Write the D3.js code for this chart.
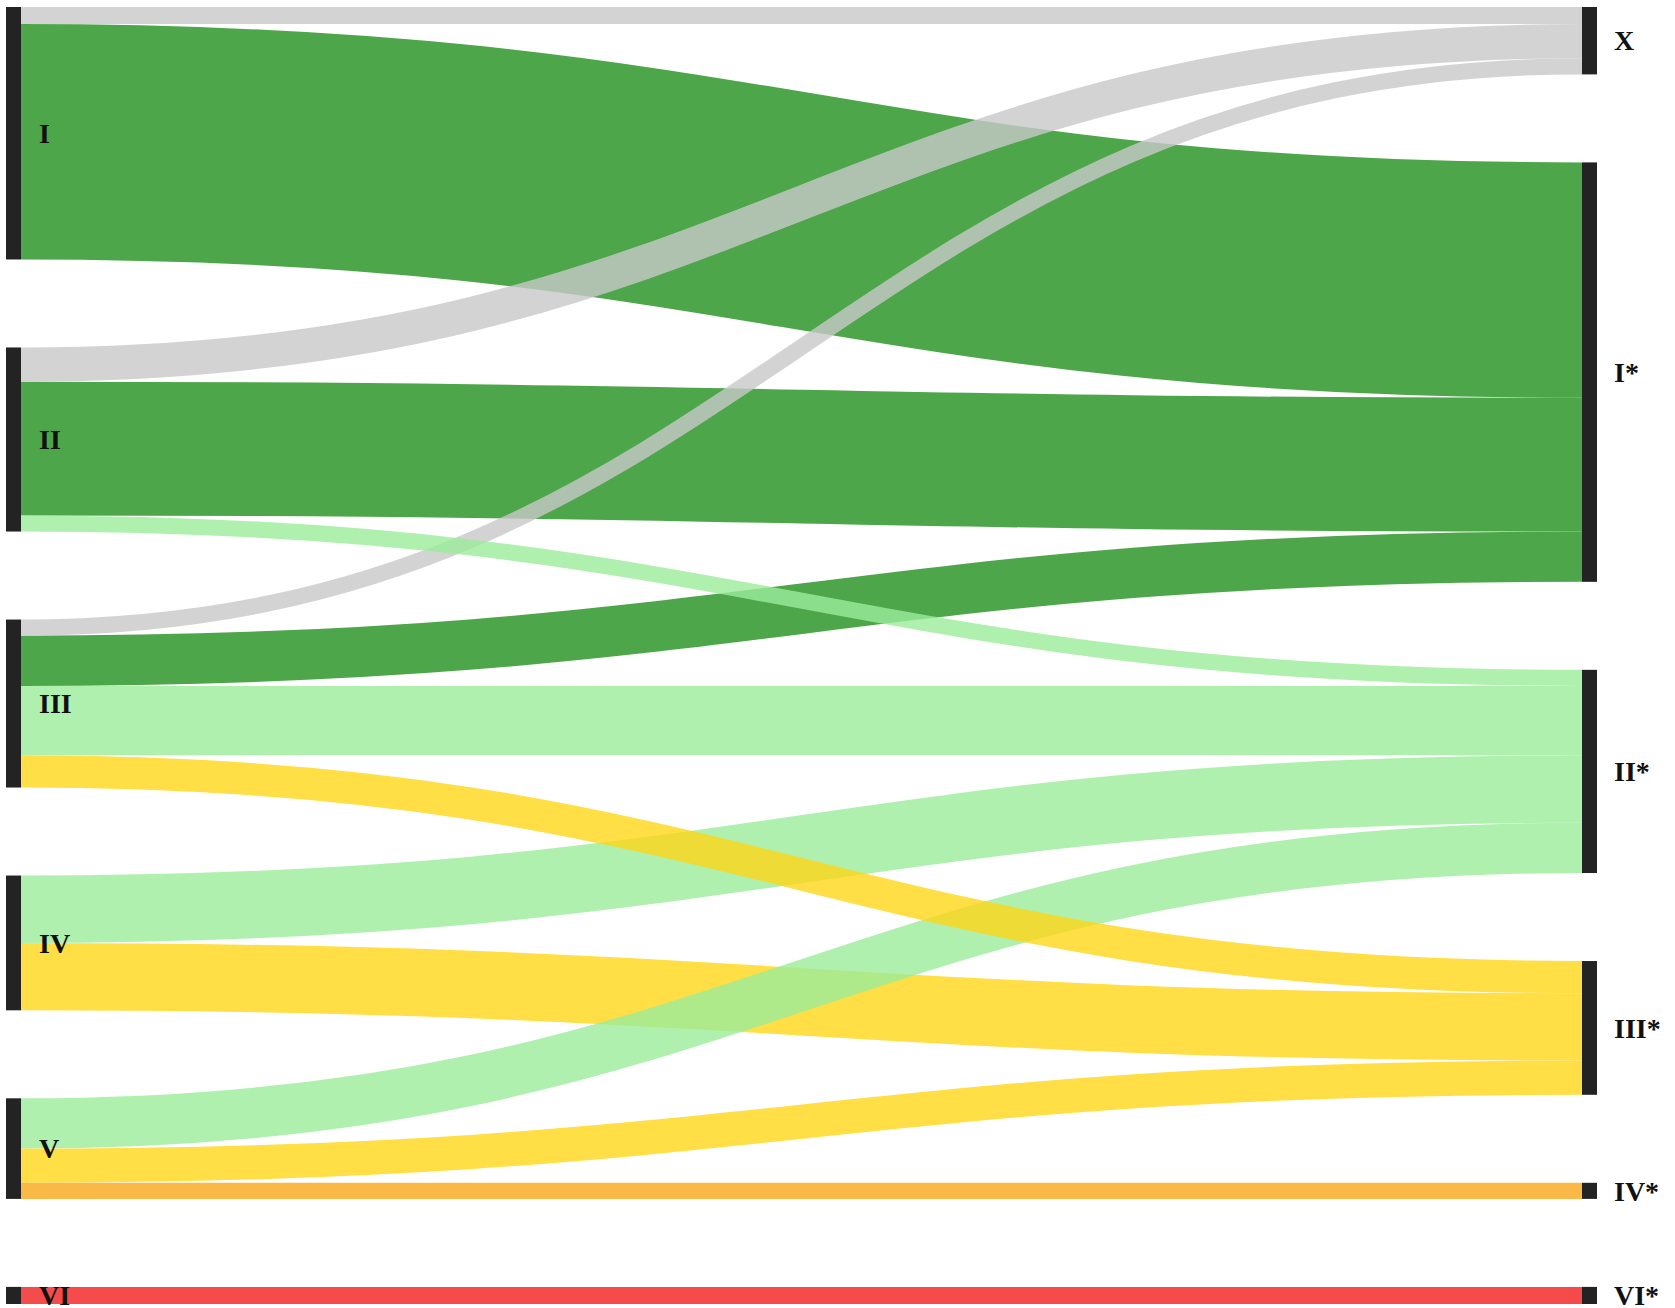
<!DOCTYPE html>
<html>
<head>
<meta charset="utf-8">
<script src="https://cdn.jsdelivr.net/npm/d3@7"></script>
<style>
  body { margin: 0; background: #ffffff; }
  text { font-family: "Liberation Serif", "DejaVu Serif", serif; font-weight: bold; font-size: 28px; fill: #111; }
</style>
</head>
<body>
<svg id="chart" width="1675" height="1308"></svg>
<script>
// ---- data ----
const sourceNodes = ["I", "II", "III", "IV", "V", "VI"];
const targetNodes = ["X", "I*", "II*", "III*", "IV*", "VI*"];

// links listed in drawing order (later ones on top)
const linkSources = ["I", "II", "III", "I", "II", "III", "II", "III", "IV", "IV", "V", "III", "V", "V", "VI"];
const linkTargets = ["I*", "I*", "I*", "X", "X", "X", "II*", "II*", "III*", "II*", "II*", "III*", "III*", "IV*", "VI*"];
const linkValues  = [234, 133, 50, 17, 34, 16, 16, 69, 67, 67, 50, 32, 34, 16, 17];

// ---- styles ----
const targetColors = ["#c8c8c8", "#22901d", "#9bec9b", "#ffd618", "#f9a818", "#f31e1e"];
const color = d3.scaleOrdinal(targetNodes, targetColors);

const W = 1675, H = 1308;
const nodeWidth = 15;
const padding = 88;
const extentTop = 7, extentBottom = 1304;
const curvature = 0.47;

// ---- layout ----
const nodes = [
  ...sourceNodes.map((n, i) => ({ name: n, col: 0, idx: i, out: [], inc: [] })),
  ...targetNodes.map((n, i) => ({ name: n, col: 1, idx: i, out: [], inc: [] }))
];
const byName = new Map(nodes.map(n => [n.col + ":" + n.name, n]));
const links = linkValues.map((v, i) => {
  const s = byName.get("0:" + linkSources[i]);
  const t = byName.get("1:" + linkTargets[i]);
  const l = { source: s, target: t, value: v, order: i };
  s.out.push(l); t.inc.push(l);
  return l;
});
nodes.forEach(n => {
  n.value = Math.max(d3.sum(n.out, l => l.value), d3.sum(n.inc, l => l.value));
});

const columns = [nodes.filter(n => n.col === 0), nodes.filter(n => n.col === 1)];
const ky = d3.min(columns, c => (extentBottom - extentTop - (c.length - 1) * padding) / d3.sum(c, n => n.value));
const h = d3.scaleLinear().domain([0, 1]).range([0, ky]);
const x = d3.scaleLinear().domain([0, 1]).range([6, 1582]);

columns.forEach(col => {
  const totalH = d3.sum(col, n => h(n.value));
  const pad = (extentBottom - extentTop - totalH) / (col.length - 1);
  let y = extentTop;
  col.forEach(n => {
    n.x0 = x(n.col);
    n.x1 = n.x0 + nodeWidth;
    n.y0 = y;
    n.y1 = y + h(n.value);
    y = n.y1 + pad;
  });
});

nodes.forEach(n => {
  let y = n.y0;
  n.out.slice().sort((a, b) => a.target.y0 - b.target.y0).forEach(l => {
    l.width = h(l.value);
    l.y0 = y + l.width / 2;
    y += l.width;
  });
  y = n.y0;
  n.inc.slice().sort((a, b) => a.source.y0 - b.source.y0).forEach(l => {
    l.y1 = y + h(l.value) / 2;
    y += h(l.value);
  });
});

// ---- draw ----
const svg = d3.select("#chart");

function linkPath(l) {
  const x0 = l.source.x1, x1 = l.target.x0;
  const dx = (x1 - x0) * curvature;
  const p = d3.path();
  p.moveTo(x0, l.y0);
  p.bezierCurveTo(x0 + dx, l.y0, x1 - dx, l.y1, x1, l.y1);
  return p.toString();
}

svg.append("g")
  .attr("fill", "none")
  .selectAll("path")
  .data(links)
  .join("path")
  .attr("d", linkPath)
  .attr("stroke", l => color(l.target.name))
  .attr("stroke-opacity", 0.8)
  .attr("stroke-width", l => l.width);

svg.append("g")
  .selectAll("rect")
  .data(nodes)
  .join("rect")
  .attr("x", n => n.x0)
  .attr("y", n => n.y0)
  .attr("width", n => n.x1 - n.x0)
  .attr("height", n => n.y1 - n.y0)
  .attr("fill", "#232323");

svg.append("g")
  .selectAll("text")
  .data(nodes)
  .join("text")
  .attr("x", n => n.col === 0 ? n.x1 + 18 : n.x1 + 17)
  .attr("y", n => (n.y0 + n.y1) / 2)
  .attr("dy", "0.35em")
  .attr("text-anchor", "start")
  .text(n => n.name);
</script>
</body>
</html>
